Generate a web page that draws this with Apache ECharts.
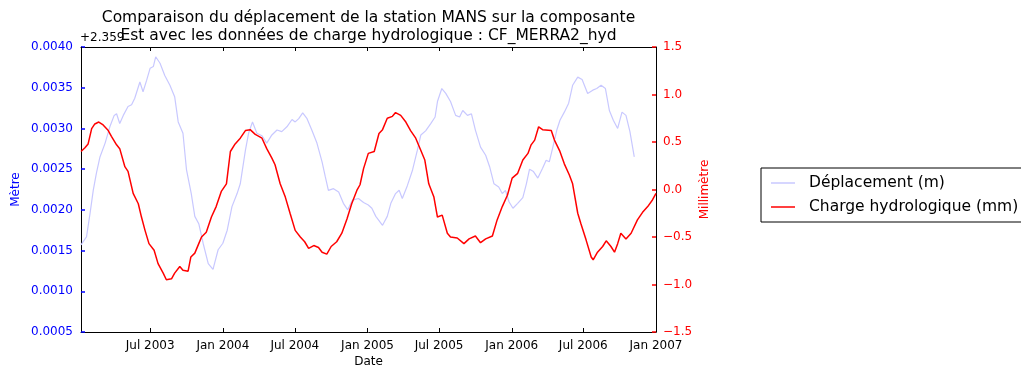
<!DOCTYPE html>
<html>
<head>
<meta charset="utf-8">
<script src="https://cdn.jsdelivr.net/npm/echarts@6/dist/echarts.min.js"></script>
<style>
  html, body { margin: 0; padding: 0; background: #fff; }
  #chart { width: 1021px; height: 373px; }
</style>
</head>
<body>
<div id="chart"></div>
<script>
// Station MANS, East component displacement (metres, relative to the offset below)
const DISP_OFFSET = '+2.359';
const dispDates = [
  '2003-01-07','2003-01-21','2003-01-30','2003-02-07','2003-02-15','2003-02-24','2003-03-09','2003-03-21',
  '2003-04-01','2003-04-07','2003-04-15','2003-04-24','2003-05-06','2003-05-15','2003-05-23','2003-06-05',
  '2003-06-13','2003-06-22','2003-07-01','2003-07-09','2003-07-15','2003-07-26','2003-08-07','2003-08-20',
  '2003-09-01','2003-09-10','2003-09-22','2003-10-01','2003-10-13','2003-10-22','2003-11-01','2003-11-12',
  '2003-11-25','2003-12-07','2003-12-20','2004-01-01','2004-01-12','2004-01-24','2004-02-06','2004-02-14',
  '2004-02-27','2004-03-06','2004-03-16','2004-03-27','2004-04-09','2004-04-21','2004-05-04','2004-05-17',
  '2004-05-29','2004-06-11','2004-06-24','2004-07-02','2004-07-11','2004-07-21','2004-08-01','2004-08-13',
  '2004-08-26','2004-09-08','2004-09-16','2004-09-24','2004-10-07','2004-10-20','2004-11-01','2004-11-12',
  '2004-11-24','2004-12-09','2004-12-22','2005-01-03','2005-01-12','2005-01-22','2005-02-08','2005-02-20',
  '2005-03-01','2005-03-13','2005-03-22','2005-03-30','2005-04-12','2005-04-25','2005-05-07','2005-05-16',
  '2005-05-28','2005-06-10','2005-06-21','2005-06-27','2005-07-08','2005-07-18','2005-07-30','2005-08-12',
  '2005-08-22','2005-08-30','2005-09-11','2005-09-21','2005-10-01','2005-10-14','2005-10-27','2005-11-06',
  '2005-11-17','2005-11-29','2005-12-08','2005-12-16','2005-12-25','2006-01-04','2006-01-16','2006-01-29',
  '2006-02-07','2006-02-15','2006-02-25','2006-03-08','2006-03-20','2006-03-29','2006-04-06','2006-04-15',
  '2006-04-25','2006-05-03','2006-05-14','2006-05-25','2006-06-04','2006-06-17','2006-06-28','2006-07-12',
  '2006-07-25','2006-08-04','2006-08-15','2006-08-26','2006-09-05','2006-09-15','2006-09-26','2006-10-07',
  '2006-10-17','2006-10-27','2006-11-07'
];
const dispValues = [
  0.00157,0.00167,0.00196,0.00224,0.00245,0.00265,0.00282,0.00302,
  0.00316,0.00318,0.00306,0.00316,0.00327,0.00329,0.00337,0.00357,
  0.00345,0.00359,0.00374,0.00376,0.00388,0.00380,0.00365,0.00353,
  0.00339,0.00308,0.00294,0.00249,0.00220,0.00192,0.00183,0.00159,
  0.00134,0.00127,0.00151,0.00159,0.00175,0.00204,0.00220,0.00232,
  0.00273,0.00294,0.00308,0.00294,0.00291,0.00282,0.00292,0.00298,
  0.00296,0.00302,0.00311,0.00308,0.00312,0.00319,0.00312,0.00298,
  0.00282,0.00259,0.00241,0.00224,0.00226,0.00222,0.00208,0.00200,
  0.00212,0.00214,0.00209,0.00206,0.00202,0.00192,0.00181,0.00192,
  0.00208,0.00220,0.00224,0.00214,0.00230,0.00249,0.00273,0.00292,
  0.00297,0.00306,0.00314,0.00333,0.00349,0.00343,0.00333,0.00316,
  0.00314,0.00322,0.00316,0.00318,0.00298,0.00277,0.00267,0.00253,
  0.00232,0.00228,0.00220,0.00224,0.00210,0.00202,0.00208,0.00215,
  0.00232,0.00250,0.00247,0.00239,0.00251,0.00261,0.00259,0.00277,
  0.00298,0.00310,0.00320,0.00331,0.00353,0.00363,0.00360,0.00343,
  0.00347,0.00349,0.00353,0.00349,0.00322,0.00310,0.00300,0.00320,
  0.00316,0.00296,0.00265
];

// Hydrological loading CF_MERRA2_hyd (millimetres)
const chargeDates = [
  '2003-01-07','2003-01-17','2003-01-25','2003-02-03','2003-02-11','2003-02-21','2003-03-04','2003-03-17',
  '2003-03-25','2003-04-07','2003-04-15','2003-04-28','2003-05-06','2003-05-19','2003-06-01','2003-06-09',
  '2003-06-18','2003-06-28','2003-07-11','2003-07-21','2003-08-03','2003-08-11','2003-08-24','2003-09-01',
  '2003-09-14','2003-09-22','2003-10-05','2003-10-12','2003-10-22','2003-11-01','2003-11-08','2003-11-20',
  '2003-12-03','2003-12-15','2003-12-28','2004-01-10','2004-01-20','2004-02-01','2004-02-14','2004-02-27',
  '2004-03-10','2004-03-23','2004-04-09','2004-04-21','2004-05-04','2004-05-12','2004-05-25','2004-06-07',
  '2004-06-19','2004-07-02','2004-07-15','2004-07-26','2004-08-05','2004-08-18','2004-08-30','2004-09-08',
  '2004-09-20','2004-10-01','2004-10-15','2004-10-28','2004-11-10','2004-11-22','2004-12-05','2004-12-13',
  '2004-12-22','2005-01-03','2005-01-18','2005-01-30','2005-02-08','2005-02-20','2005-03-05','2005-03-13',
  '2005-03-26','2005-04-08','2005-04-20','2005-05-03','2005-05-16','2005-05-26','2005-06-05','2005-06-18',
  '2005-06-27','2005-07-09','2005-07-22','2005-07-30','2005-08-16','2005-09-02','2005-09-15','2005-10-01',
  '2005-10-14','2005-10-27','2005-11-13','2005-11-25','2005-12-08','2005-12-21','2006-01-02','2006-01-16',
  '2006-01-29','2006-02-11','2006-02-19','2006-02-28','2006-03-10','2006-03-20','2006-04-11','2006-04-19',
  '2006-05-02','2006-05-14','2006-05-27','2006-06-04','2006-06-17','2006-06-25','2006-07-08','2006-07-21',
  '2006-07-26','2006-08-06','2006-08-19','2006-08-28','2006-09-09','2006-09-18','2006-09-26','2006-10-04',
  '2006-10-17','2006-10-30','2006-11-15','2006-11-28','2006-12-11','2006-12-23','2007-01-01'
];
const chargeValues = [
  0.40,0.44,0.48,0.64,0.69,0.71,0.68,0.62,
  0.56,0.47,0.43,0.24,0.19,-0.04,-0.15,-0.29,
  -0.43,-0.57,-0.64,-0.78,-0.88,-0.95,-0.94,-0.88,
  -0.81,-0.85,-0.86,-0.71,-0.67,-0.57,-0.50,-0.45,
  -0.29,-0.18,-0.02,0.06,0.40,0.48,0.54,0.62,
  0.63,0.58,0.54,0.43,0.33,0.26,0.06,-0.08,
  -0.25,-0.43,-0.50,-0.55,-0.62,-0.59,-0.61,-0.66,
  -0.68,-0.60,-0.55,-0.46,-0.31,-0.15,-0.01,0.05,
  0.22,0.38,0.40,0.59,0.63,0.75,0.77,0.81,
  0.78,0.71,0.62,0.54,0.41,0.31,0.06,-0.08,
  -0.29,-0.27,-0.46,-0.50,-0.51,-0.57,-0.52,-0.49,
  -0.56,-0.52,-0.49,-0.32,-0.18,-0.06,0.12,0.17,
  0.31,0.38,0.47,0.52,0.66,0.63,0.62,0.52,
  0.41,0.27,0.15,0.06,-0.25,-0.36,-0.53,-0.71,
  -0.74,-0.66,-0.60,-0.54,-0.60,-0.66,-0.57,-0.46,
  -0.52,-0.46,-0.32,-0.24,-0.18,-0.11,-0.04
];

const monthNames = ['Jan','Feb','Mar','Apr','May','Jun','Jul','Aug','Sep','Oct','Nov','Dec'];
const xStart = '2003-01-07';
const xEnd = '2007-01-01';

const FONT = 'DejaVu Sans';
const DAY = 86400000;

const chart = echarts.init(document.getElementById('chart'), null, { renderer: 'canvas' });

// Shared settings for the bottom (labelled) and top (ticks only) time axes
const timeAxisBase = {
  type: 'time',
  min: xStart,
  max: xEnd,
  minInterval: 180 * DAY,
  maxInterval: 185 * DAY,
  splitLine: { show: false },
  axisLine: { show: true, onZero: false, lineStyle: { color: '#000', width: 1 } },
  axisTick: { show: true, inside: true, length: 4, lineStyle: { color: '#000', width: 1 } }
};

chart.setOption({
  animation: false,
  backgroundColor: '#fff',
  textStyle: { fontFamily: FONT },
  title: {
    text: 'Comparaison du déplacement de la station MANS sur la composante\nEst avec les données de charge hydrologique : CF_MERRA2_hyd',
    left: 363.5,
    top: 4,
    textAlign: 'center',
    textStyle: { fontFamily: FONT, fontSize: 15.5, fontWeight: 'normal', color: '#000', lineHeight: 18 }
  },
  graphic: [{
    type: 'text',
    left: 80,
    top: 32,
    style: { text: DISP_OFFSET, font: '12px "' + FONT + '"', fill: '#000' }
  }],
  legend: {
    orient: 'vertical',
    left: 761,
    top: 168,
    padding: [7, 40, 7, 10],
    itemGap: 8,
    itemWidth: 24,
    itemHeight: 1.5,
    icon: 'rect',
    borderColor: '#000',
    borderWidth: 1,
    borderRadius: 0,
    textStyle: { fontFamily: FONT, fontSize: 15.5, color: '#000', lineHeight: 16, padding: [0, 0, 0, 9] },
    data: ['Déplacement (m)', 'Charge hydrologique (mm)']
  },
  grid: { left: 81, right: 365, top: 47, bottom: 41, containLabel: false },
  xAxis: [
    Object.assign({}, timeAxisBase, {
      position: 'bottom',
      name: 'Date',
      nameLocation: 'middle',
      nameGap: 24,
      nameMoveOverlap: false,
      nameTextStyle: { fontFamily: FONT, fontSize: 12, color: '#000' },
      axisLabel: {
        show: true,
        color: '#000',
        fontFamily: FONT,
        fontSize: 12,
        margin: 8,
        showMinLabel: false,
        showMaxLabel: true,
        hideOverlap: false,
        formatter: function (value) {
          const d = new Date(value);
          return monthNames[d.getMonth()] + ' ' + d.getFullYear();
        }
      }
    }),
    Object.assign({}, timeAxisBase, {
      position: 'top',
      axisLabel: { show: false }
    })
  ],
  yAxis: [
    {
      type: 'value',
      position: 'left',
      min: 0.0005,
      max: 0.0040,
      interval: 0.0005,
      name: 'Mètre',
      nameLocation: 'middle',
      nameGap: 59,
      nameMoveOverlap: false,
      nameRotate: 90,
      nameTextStyle: { fontFamily: FONT, fontSize: 12, color: '#0000ff' },
      splitLine: { show: false },
      axisLine: { show: true, onZero: false, lineStyle: { color: '#000', width: 1 } },
      axisTick: { show: true, inside: true, length: 4, lineStyle: { color: '#0000ff', width: 1.5 } },
      axisLabel: {
        color: '#0000ff',
        fontFamily: FONT,
        fontSize: 12,
        margin: 8,
        formatter: function (v) { return v.toFixed(4); }
      }
    },
    {
      type: 'value',
      position: 'right',
      min: -1.5,
      max: 1.5,
      interval: 0.5,
      name: 'Millimètre',
      nameLocation: 'middle',
      nameGap: 43,
      nameMoveOverlap: false,
      nameRotate: 90,
      nameTextStyle: { fontFamily: FONT, fontSize: 12, color: '#ff0000' },
      splitLine: { show: false },
      axisLine: { show: true, onZero: false, lineStyle: { color: '#000', width: 1 } },
      axisTick: { show: true, inside: true, length: 4, lineStyle: { color: '#ff0000', width: 1.5 } },
      axisLabel: {
        color: '#ff0000',
        fontFamily: FONT,
        fontSize: 12,
        margin: 7,
        formatter: function (v) {
          const s = (Math.abs(v) < 1e-9 ? 0 : v).toFixed(1);
          return s.replace('-', '\u2212');
        }
      }
    }
  ],
  series: [
    {
      name: 'Déplacement (m)',
      type: 'line',
      xAxisIndex: 0,
      yAxisIndex: 0,
      showSymbol: false,
      symbol: 'none',
      color: '#c8c8ff',
      lineStyle: { color: '#c8c8ff', width: 1.2 },
      data: dispDates.map(function (d, i) { return [d, dispValues[i]]; })
    },
    {
      name: 'Charge hydrologique (mm)',
      type: 'line',
      xAxisIndex: 0,
      yAxisIndex: 1,
      showSymbol: false,
      symbol: 'none',
      color: '#ff0000',
      lineStyle: { color: '#ff0000', width: 1.5 },
      data: chargeDates.map(function (d, i) { return [d, chargeValues[i]]; })
    }
  ]
});
</script>
</body>
</html>
